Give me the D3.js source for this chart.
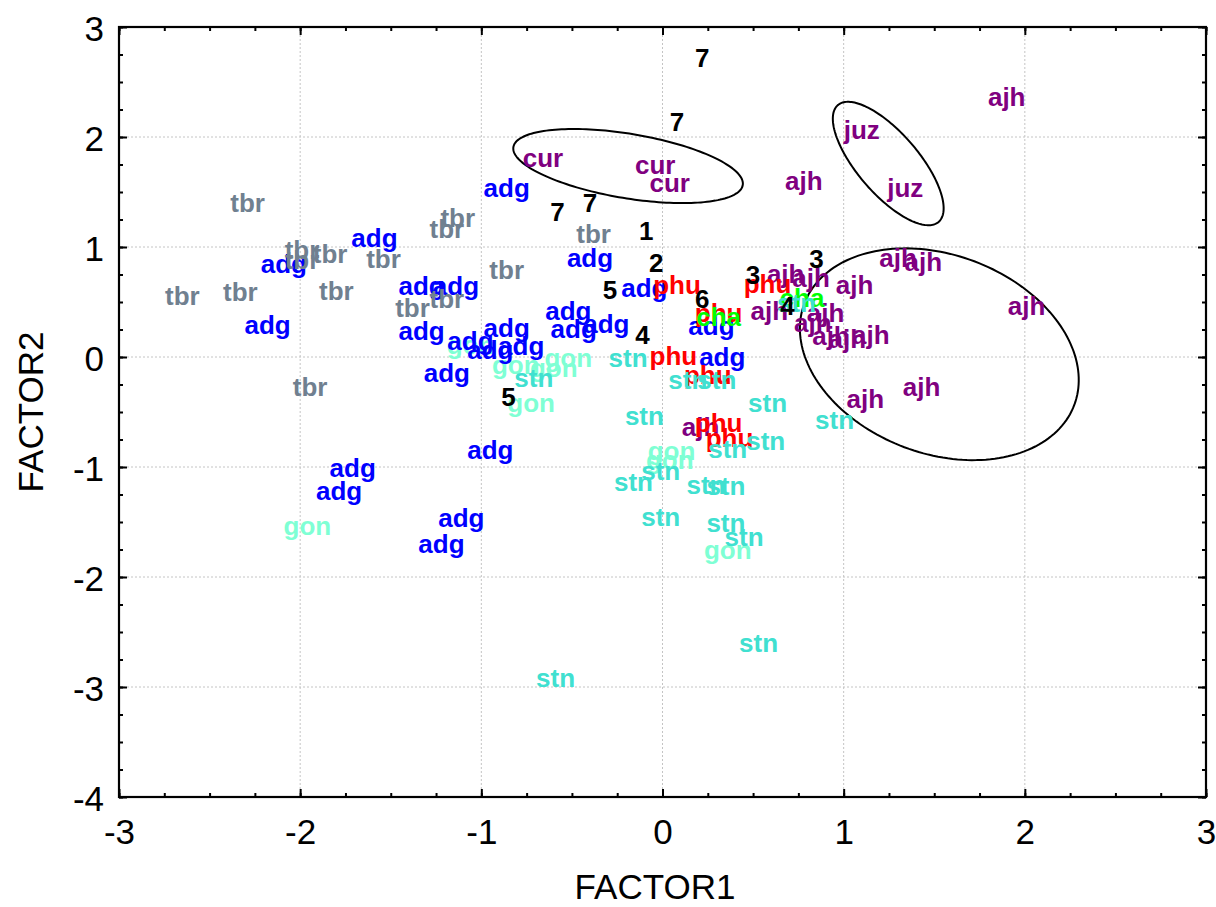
<!DOCTYPE html>
<html><head><meta charset="utf-8">
<script src="https://cdn.jsdelivr.net/npm/d3@7"></script>
<style>
body{margin:0;background:#fff}
text{font-family:"Liberation Sans",Arial,Helvetica,sans-serif}
</style>
</head><body>
<svg id="chart" width="1216" height="907"></svg>
<script>
// ---------- data ----------
const xTicks = [-3,-2,-1,0,1,2,3];
const yTicks = [-4,-3,-2,-1,0,1,2,3];
const xTitle = "FACTOR1";
const yTitle = "FACTOR2";

const gon = [[-1.06,0.09],[-0.52,-0.03],[-0.81,-0.09],[-0.60,-0.12],[-0.725,-0.44],[0.05,-0.87],[0.04,-0.95],[0.36,-1.77],[-1.96,-1.55]];
const adg = [[-0.86,1.52],[-1.59,1.06],[-2.09,0.83],[-0.40,0.88],[-0.10,0.61],[-1.33,0.63],[-1.14,0.63],[-2.18,0.27],[-1.33,0.22],[-0.52,0.40],[-0.49,0.24],[-0.31,0.28],[-0.86,0.245],[-1.06,0.13],[-0.95,0.045],[-0.78,0.08],[-1.19,-0.16],[0.27,0.26],[0.33,-0.02],[-0.95,-0.86],[-1.71,-1.03],[-1.785,-1.24],[-1.11,-1.48],[-1.22,-1.72]];
const tbr = [[-2.29,1.38],[-1.13,1.245],[-1.19,1.145],[-1.99,0.955],[-1.835,0.92],[-1.99,0.86],[-1.54,0.87],[-0.38,1.10],[-0.86,0.77],[-2.65,0.54],[-2.33,0.57],[-1.80,0.58],[-1.19,0.51],[-1.38,0.43],[-1.945,-0.29]];
const cur = [[-0.66,1.79],[-0.04,1.73],[0.04,1.56]];
const juz = [[1.10,2.05],[1.34,1.52]];
const ajh = [[1.90,2.35],[0.78,1.58],[1.30,0.88],[1.44,0.85],[0.68,0.74],[0.82,0.70],[1.06,0.64],[2.01,0.45],[0.59,0.40],[0.90,0.38],[0.83,0.29],[0.93,0.17],[1.02,0.15],[1.15,0.18],[1.43,-0.29],[1.12,-0.40],[0.21,-0.65]];
const phu = [[0.08,0.64],[0.58,0.65],[0.31,0.38],[0.06,-0.01],[0.25,-0.18],[0.31,-0.62],[0.37,-0.75]];
const cha = [[0.31,0.35],[0.77,0.52]];
const stn = [[0.74,0.47],[-0.19,-0.03],[-0.71,-0.21],[0.14,-0.23],[0.30,-0.23],[0.58,-0.44],[0.95,-0.59],[-0.10,-0.55],[0.57,-0.78],[0.36,-0.85],[-0.01,-1.05],[-0.16,-1.15],[0.24,-1.18],[0.35,-1.19],[-0.01,-1.47],[0.35,-1.53],[0.45,-1.65],[0.53,-2.62],[-0.59,-2.94]];

const numLabels = ["7","7","7","7","1","2","5","6","3","3","4","4","5"];
const numX = [0.22,0.08,-0.58,-0.40,-0.09,-0.035,-0.29,0.22,0.50,0.85,0.69,-0.11,-0.85];
const numY = [2.72,2.14,1.32,1.40,1.15,0.86,0.61,0.53,0.75,0.89,0.47,0.20,-0.36];

// ellipses: centre, major semi-axis vector, minor semi-axis vector (data units)
const ellipseCenters = [[-0.19,1.736],[1.246,1.759],[1.528,0.025]];
const ellipseMajor   = [[0.633,-0.173],[0.278,-0.531],[0.745,-0.461]];
const ellipseMinor   = [[-0.029,-0.289],[-0.1275,-0.181],[-0.193,-0.845]];

// drawing order and colours
const groupNames  = ["gon","adg","tbr","cur","juz","ajh","phu","cha","stn"];
const groupData   = [gon, adg, tbr, cur, juz, ajh, phu, cha, stn];
const groupColors = ["#7FFFD4","#0000FF","#708090","#800080","#800080","#800080","#FF0000","#00FF00","#40E0D0"];

// ---------- layout ----------
const svg = d3.select("#chart");
const L = 119, R = 1206, T = 27, B = 797;
const x = d3.scaleLinear().domain([-3,3]).range([L,R]);
const y = d3.scaleLinear().domain([-4,3]).range([B,T]);
const minorX = d3.range(-3,3.001,0.25);
const minorY = d3.range(-4,3.001,0.25);
const fmt = d => String(d);

// grid
const grid = svg.append("g").attr("stroke","#c4c4c4").attr("stroke-width",1).attr("stroke-dasharray","2,2");
xTicks.slice(1,-1).forEach(v=>grid.append("line").attr("x1",x(v)).attr("x2",x(v)).attr("y1",T).attr("y2",B));
yTicks.slice(1,-1).forEach(v=>grid.append("line").attr("y1",y(v)).attr("y2",y(v)).attr("x1",L).attr("x2",R));

// axes (ticks inward on all four sides)
function styleAxis(g){ g.select(".domain").remove(); g.selectAll("line").attr("stroke","#000").attr("stroke-width",2); g.selectAll("text").attr("font-size",35).attr("fill","#000"); }
svg.append("g").attr("transform",`translate(0,${B})`).call(d3.axisBottom(x).tickValues(minorX).tickSize(-4).tickFormat("")).call(styleAxis);
svg.append("g").attr("transform",`translate(0,${B})`).call(d3.axisBottom(x).tickValues(xTicks).tickSize(-8).tickPadding(22).tickFormat(fmt)).call(styleAxis);
svg.append("g").attr("transform",`translate(0,${T})`).call(d3.axisTop(x).tickValues(minorX).tickSize(-4).tickFormat("")).call(styleAxis);
svg.append("g").attr("transform",`translate(0,${T})`).call(d3.axisTop(x).tickValues(xTicks).tickSize(-8).tickFormat("")).call(styleAxis);
svg.append("g").attr("transform",`translate(${L},0)`).call(d3.axisLeft(y).tickValues(minorY).tickSize(-4).tickFormat("")).call(styleAxis);
const yAx = svg.append("g").attr("transform",`translate(${L},0)`).call(d3.axisLeft(y).tickValues(yTicks).tickSize(-8).tickPadding(15).tickFormat(fmt)).call(styleAxis);
yAx.selectAll("text").attr("dy","0.38em");
svg.append("g").attr("transform",`translate(${R},0)`).call(d3.axisRight(y).tickValues(minorY).tickSize(-4).tickFormat("")).call(styleAxis);
svg.append("g").attr("transform",`translate(${R},0)`).call(d3.axisRight(y).tickValues(yTicks).tickSize(-8).tickFormat("")).call(styleAxis);

// frame
svg.append("rect").attr("x",L).attr("y",T).attr("width",R-L).attr("height",B-T)
  .attr("fill","none").attr("stroke","#000").attr("stroke-width",2.2);

// axis titles
svg.append("text").attr("x",655).attr("y",899).attr("text-anchor","middle").attr("font-size",35).text(xTitle);
svg.append("text").attr("transform",`translate(43,${(T+B)/2}) rotate(-90)`).attr("text-anchor","middle").attr("font-size",35).text(yTitle);

// ellipses
const tSteps = d3.range(0, 2*Math.PI, Math.PI/90);
const line = d3.line().curve(d3.curveLinearClosed);
ellipseCenters.forEach((c,i)=>{
  const M = ellipseMajor[i], m = ellipseMinor[i];
  const pts = tSteps.map(t=>[x(c[0]+Math.cos(t)*M[0]+Math.sin(t)*m[0]), y(c[1]+Math.cos(t)*M[1]+Math.sin(t)*m[1])]);
  svg.append("path").attr("d",line(pts)).attr("fill","none").attr("stroke","#000").attr("stroke-width",2);
});

// labels
const lab = svg.append("g").attr("font-weight","bold").attr("font-size",26).attr("text-anchor","middle");
groupData.forEach((arr,gi)=>{
  lab.selectAll(null).data(arr).enter().append("text")
    .attr("x",d=>x(d[0])).attr("y",d=>y(d[1])).attr("dy","0.27em")
    .attr("fill",groupColors[gi]).text(groupNames[gi]);
});
lab.selectAll(null).data(numLabels).enter().append("text")
  .attr("x",(d,i)=>x(numX[i])).attr("y",(d,i)=>y(numY[i])).attr("dy","0.36em")
  .attr("fill","#000").text(d=>d);
</script>
</body></html>
